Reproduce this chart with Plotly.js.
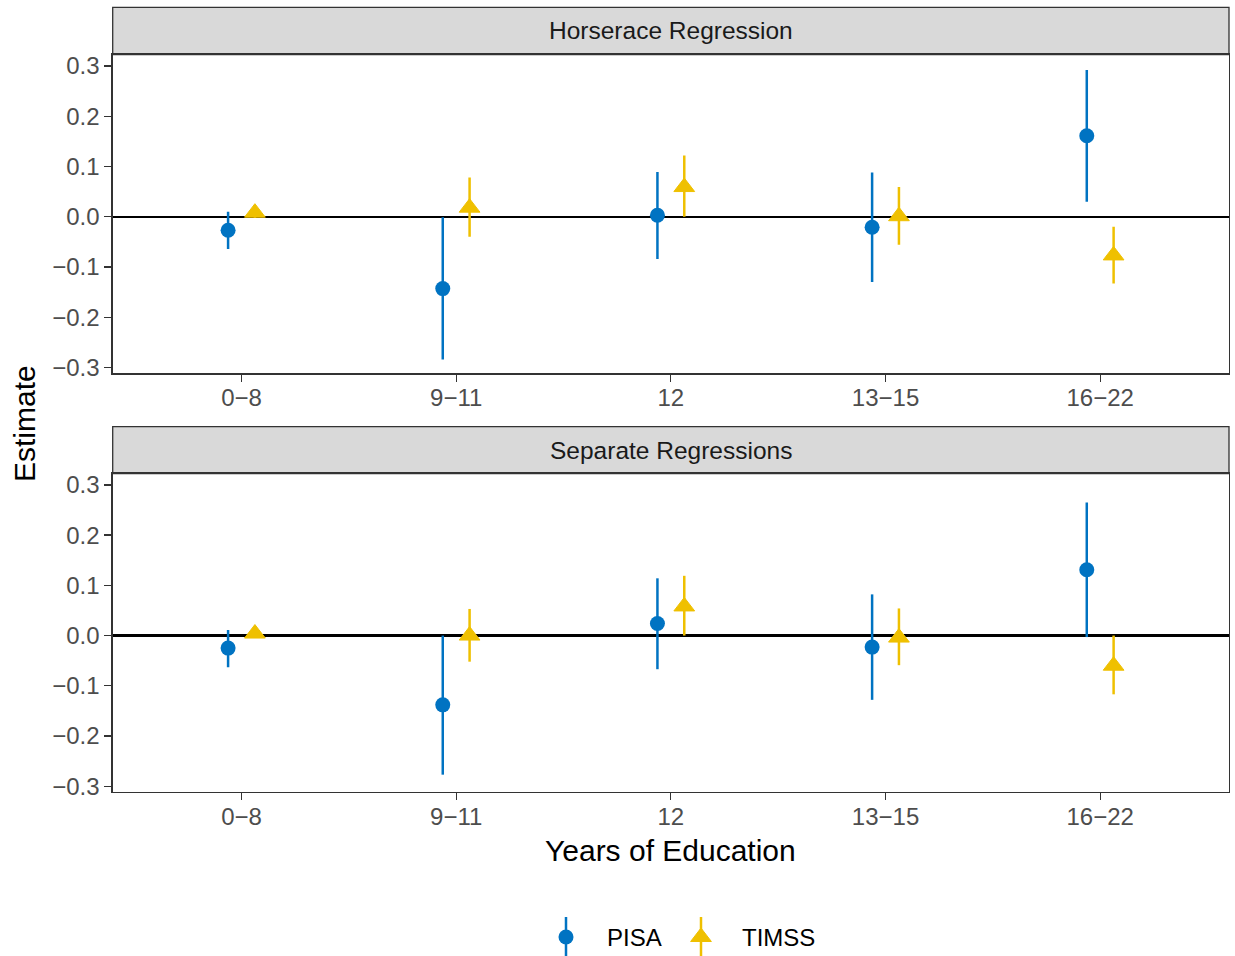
<!DOCTYPE html>
<html>
<head>
<meta charset="utf-8">
<script src="https://cdn.plot.ly/plotly-3.0.1.min.js"></script>
<style>html,body{margin:0;padding:0;background:#fff;}#chart{width:1235px;height:956px;}</style>
</head>
<body>
<div id="chart"></div>
<script>
// ---- data ----
var categories = ["0\u22128", "9\u221211", "12", "13\u221215", "16\u221222"];
var yTickVals = [-0.3, -0.2, -0.1, 0.0, 0.1, 0.2, 0.3];
var yTickText = ["\u22120.3", "\u22120.2", "\u22120.1", "0.0", "0.1", "0.2", "0.3"];
var panelTitles = ["Horserace Regression", "Separate Regressions"];
var seriesNames = ["PISA", "TIMSS"];

// Horserace Regression
var horsePisaEst  = [-0.027, -0.143, 0.003, -0.021, 0.161];
var horsePisaLo   = [-0.064, -0.284, -0.084, -0.130, 0.030];
var horsePisaHi   = [0.010, -0.001, 0.089, 0.088, 0.292];
var horseTimssEst = [0.008, 0.018, 0.059, 0.001, -0.077];
var horseTimssLo  = [-0.002, -0.040, 0.000, -0.056, -0.133];
var horseTimssHi  = [0.016, 0.078, 0.122, 0.059, -0.020];

// Separate Regressions
var sepPisaEst  = [-0.025, -0.138, 0.024, -0.023, 0.131];
var sepPisaLo   = [-0.063, -0.277, -0.067, -0.128, -0.003];
var sepPisaHi   = [0.011, 0.000, 0.114, 0.082, 0.265];
var sepTimssEst = [0.004, 0.000, 0.058, -0.004, -0.060];
var sepTimssLo  = [-0.004, -0.052, 0.000, -0.059, -0.117];
var sepTimssHi  = [0.016, 0.053, 0.119, 0.054, 0.000];

// ---- styling ----
var W = 1235, H = 956;
var FONT = "Liberation Sans, Arial, Helvetica, sans-serif";
var cPisa = "#0073C2", cTimss = "#EFC000";
var dodge = 0.0625;
var px = function (v) { return v / W; };
var py = function (v) { return 1 - v / H; };

var panelL = 112.7, panelR = 1229;
var panels = [
  {stripTop: 7.3, top: 54.5, bottom: 373.3},
  {stripTop: 426.7, top: 473.5, bottom: 792}
];

function pos(offset) { return categories.map(function (c, i) { return i + 1 + offset; }); }
function plus(est, hi) { return est.map(function (e, i) { return hi[i] - e; }); }
function minus(est, lo) { return est.map(function (e, i) { return e - lo[i]; }); }

function makeTrace(name, est, lo, hi, color, symbol, size, offset, xa, ya) {
  return {
    type: "scatter", mode: "markers", name: name, showlegend: false,
    x: pos(offset), y: est, xaxis: xa, yaxis: ya,
    marker: {color: color, size: size, symbol: symbol, line: {width: symbol === "circle" ? 0 : 1, color: color}},
    error_y: {type: "data", symmetric: false, array: plus(est, hi), arrayminus: minus(est, lo),
              color: color, thickness: 2.5, width: 0},
    cliponaxis: false, hoverinfo: "skip"
  };
}

var traces = [
  makeTrace("PISA", horsePisaEst, horsePisaLo, horsePisaHi, cPisa, "circle", 15, -dodge, "x", "y"),
  makeTrace("TIMSS", horseTimssEst, horseTimssLo, horseTimssHi, cTimss, "triangle-up", 18, dodge, "x", "y"),
  makeTrace("PISA", sepPisaEst, sepPisaLo, sepPisaHi, cPisa, "circle", 15, -dodge, "x2", "y2"),
  makeTrace("TIMSS", sepTimssEst, sepTimssLo, sepTimssHi, cTimss, "triangle-up", 18, dodge, "x2", "y2")
];

// custom legend keys drawn on a pixel-coordinate overlay axis
var legendY = 937;
var legendKeys = [
  {name: seriesNames[0], x: 566, color: cPisa, symbol: "circle", size: 15, textX: 605},
  {name: seriesNames[1], x: 701, color: cTimss, symbol: "triangle-up", size: 18, textX: 740}
];
legendKeys.forEach(function (k) {
  traces.push({
    type: "scatter", mode: "markers", showlegend: false, x: [k.x], y: [legendY],
    xaxis: "x3", yaxis: "y3", hoverinfo: "skip", cliponaxis: false,
    marker: {color: k.color, size: k.size, symbol: k.symbol, line: {width: k.symbol === "circle" ? 0 : 1, color: k.color}},
    error_y: {type: "data", symmetric: true, array: [20], color: k.color, thickness: 2.5, width: 0}
  });
});

function xAxis(anchor) {
  return {
    domain: [px(panelL), px(panelR)], anchor: anchor, range: [0.4, 5.6],
    tickmode: "array", tickvals: pos(0), ticktext: categories,
    ticks: "outside", ticklen: 7, tickwidth: 1.3, tickcolor: "#333333", ticklabelstandoff: -4,
    showline: true, mirror: true, linecolor: "#333333", linewidth: 1.3,
    showgrid: false, zeroline: false, fixedrange: true,
    tickfont: {family: FONT, size: 24, color: "#4D4D4D"}
  };
}
function yAxis(anchor, p) {
  return {
    domain: [py(p.bottom), py(p.top)], anchor: anchor, range: [-0.3115, 0.3227],
    tickmode: "array", tickvals: yTickVals, ticktext: yTickText,
    ticks: "outside", ticklen: 7, tickwidth: 1.3, tickcolor: "#333333",
    showline: true, mirror: true, linecolor: "#333333", linewidth: 1.3,
    showgrid: false, zeroline: true, zerolinecolor: "#000000", zerolinewidth: 2.2, fixedrange: true,
    tickfont: {family: FONT, size: 24, color: "#4D4D4D"}
  };
}

var shapes = [], annotations = [];
panels.forEach(function (p, i) {
  shapes.push({type: "rect", xref: "paper", yref: "paper", x0: px(panelL), x1: px(panelR),
    y0: py(p.top), y1: py(p.stripTop), fillcolor: "#D9D9D9", line: {color: "#333333", width: 1.3}, layer: "below"});
  annotations.push({xref: "paper", yref: "paper", x: px((panelL + panelR) / 2), y: py((p.top + p.stripTop) / 2),
    text: panelTitles[i], showarrow: false, xanchor: "center", yanchor: "middle",
    font: {family: FONT, size: 24.5, color: "#1A1A1A"}});
});
annotations.push({xref: "paper", yref: "paper", x: px((panelL + panelR) / 2), y: py(850),
  text: "Years of Education", showarrow: false, xanchor: "center", yanchor: "middle",
  font: {family: FONT, size: 30, color: "#000000"}});
annotations.push({xref: "paper", yref: "paper", x: px(25), y: py(424),
  text: "Estimate", showarrow: false, textangle: -90, xanchor: "center", yanchor: "middle",
  font: {family: FONT, size: 30, color: "#000000"}});
legendKeys.forEach(function (k) {
  annotations.push({xref: "x3", yref: "y3", x: k.textX, y: legendY, text: k.name, showarrow: false,
    xanchor: "left", yanchor: "middle", font: {family: FONT, size: 24, color: "#000000"}});
});

var layout = {
  width: W, height: H, margin: {l: 0, r: 0, t: 0, b: 0},
  paper_bgcolor: "#FFFFFF", plot_bgcolor: "rgba(0,0,0,0)",
  showlegend: false, hovermode: false,
  font: {family: FONT},
  xaxis: xAxis("y"), yaxis: yAxis("x", panels[0]),
  xaxis2: xAxis("y2"), yaxis2: yAxis("x2", panels[1]),
  xaxis3: {domain: [0, 1], range: [0, W], anchor: "y3", visible: false, fixedrange: true},
  yaxis3: {domain: [0, 1], range: [H, 0], anchor: "x3", visible: false, fixedrange: true},
  shapes: shapes, annotations: annotations
};

Plotly.newPlot("chart", traces, layout, {staticPlot: true, displayModeBar: false});
</script>
</body>
</html>
